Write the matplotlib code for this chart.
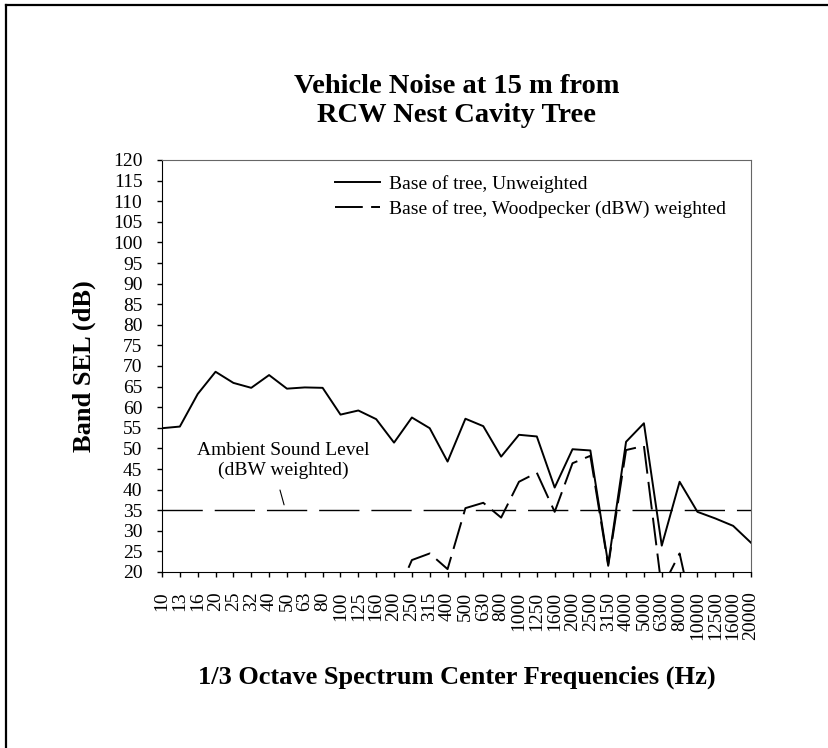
import numpy as np
import matplotlib
matplotlib.use("Agg")
import matplotlib.pyplot as plt
from matplotlib.lines import Line2D

# ── 数据 ─────────────────────────────────────────────
freq_labels = ["10", "13", "16", "20", "25", "32", "40", "50", "63", "80",
               "100", "125", "160", "200", "250", "315", "400", "500", "630", "800",
               "1000", "1250", "1600", "2000", "2500", "3150", "4000", "5000", "6300", "8000",
               "10000", "12500", "16000", "20000"]

unweighted = [54.9, 55.3, 63.2, 68.6, 65.9, 64.7, 67.8, 64.5, 64.8, 64.7,
              58.2, 59.2, 57.1, 51.4, 57.5, 54.9, 46.8, 57.2, 55.4, 48.0,
              53.3, 52.9, 40.5, 49.8, 49.5, 21.9, 51.6, 56.1, 26.4, 41.9,
              34.6, 33.0, 31.2, 27.1]

# 低于 20 dB 的部分在原图中被坐标轴裁掉，不可见处记为 NaN
woodpecker = [np.nan] * 13 + [13.0, 22.9, 24.5, 20.7, 35.5, 36.8, 33.2,
              41.9, 44.1, 34.6, 46.4, 48.2, 21.5, 49.6, 50.6, 16.0, 24.5,
              5.0, np.nan, np.nan, np.nan]

ambient_level = 35.0

title = "Vehicle Noise at 15 m from\nRCW Nest Cavity Tree"
legend_labels = ["Base of tree, Unweighted",
                 "Base of tree, Woodpecker (dBW) weighted"]

# ── 样式 ─────────────────────────────────────────────
plt.rcParams["font.family"] = ["Liberation Serif", "DejaVu Serif"]
plt.rcParams["lines.scale_dashes"] = False

W, H = 829, 748
fig = plt.figure(figsize=(W / 100, H / 100), dpi=100)

# 外框（只露出左边和上边）
fig.add_artist(Line2D([6.5 / W, 6.5 / W], [0, 1 - 5 / H], color="black", lw=1.6))
fig.add_artist(Line2D([6.5 / W, 1], [1 - 5 / H, 1 - 5 / H], color="black", lw=1.6))

left, right, top, bottom = 162, 751, 160, 572
ax = fig.add_axes([left / W, (H - bottom) / H, (right - left) / W, (bottom - top) / H])

x = np.arange(len(freq_labels))
ax.plot(x, unweighted, color="black", lw=1.4, label=legend_labels[0])
ax.plot(x, woodpecker, color="black", lw=1.4, dashes=(20, 6), label=legend_labels[1])
ax.axhline(ambient_level, color="black", lw=1.0, dashes=(29, 8.6))

ax.set_xlim(0, len(freq_labels) - 1)
ax.set_ylim(20, 120)
ax.set_yticks(np.arange(20, 121, 5))
ax.set_xticks(x)
ax.set_xticklabels(freq_labels, rotation=90, fontsize=14)
ax.tick_params(axis="y", labelsize=14, direction="out", length=3.6, width=1, pad=10.5)
ax.tick_params(axis="x", direction="out", length=3.6, width=1, pad=10.5)

for side in ["left", "bottom"]:
    ax.spines[side].set_color("black")
for side in ["top", "right"]:
    ax.spines[side].set_color("#666666")

ax.set_ylabel("Band SEL (dB)", fontsize=19, fontweight="bold")
ax.yaxis.set_label_coords((96 - left) / (right - left), 0.5)
ax.set_xlabel("1/3 Octave Spectrum Center Frequencies (Hz)", fontsize=19, fontweight="bold")
ax.xaxis.set_label_coords(0.5, -(666 - bottom) / (bottom - top), transform=ax.transAxes)

fig.text(0.5 * (left + right) / W, 1 - 101 / H, title, ha="center", va="center",
         fontsize=20.5, fontweight="bold", linespacing=1.18)

ax.legend(loc="upper left", bbox_to_anchor=(335 / W, 1 - 175 / H),
          bbox_transform=fig.transFigure, frameon=False, fontsize=14,
          handlelength=2.3, handletextpad=0.5, borderpad=0, borderaxespad=0,
          labelspacing=0.35)

ax.text(6.78, 47.0, "Ambient Sound Level\n(dBW weighted)", ha="center", va="center",
        fontsize=14, linespacing=1.2)
ax.annotate("", xy=(6.84, 36.3), xytext=(6.61, 39.9),
            arrowprops=dict(arrowstyle="-", color="black", lw=0.8, shrinkA=0, shrinkB=0))

fig.savefig("out.png", dpi=100)
